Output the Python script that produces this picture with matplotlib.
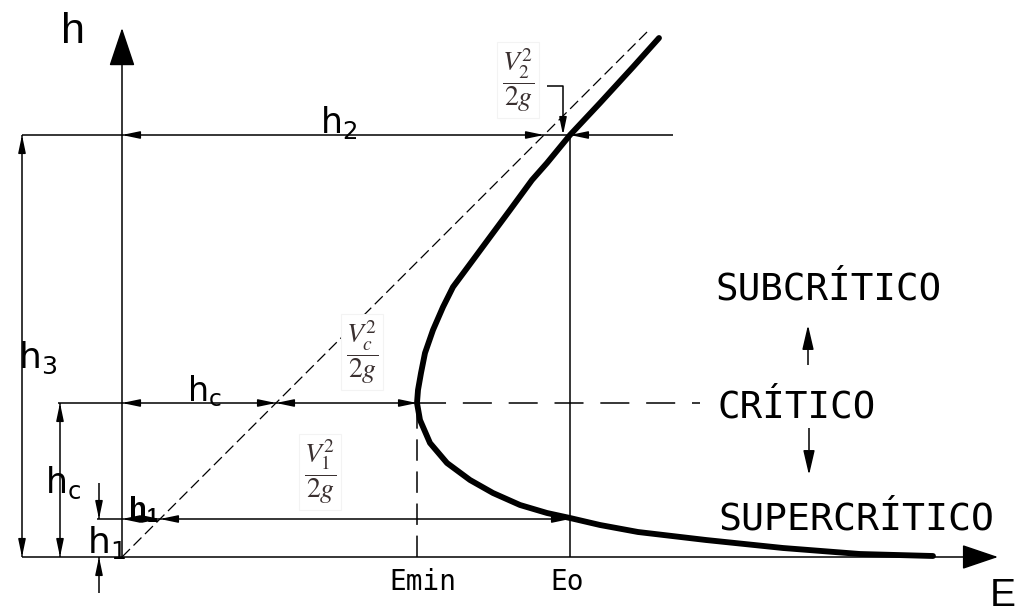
import matplotlib
matplotlib.use("Agg")
import matplotlib.pyplot as plt

# ---- data (specific-energy diagram, in drawing units) ----
E_curve = [537, 511, 478, 448, 425, 410, 388, 368, 351, 331, 321, 311, 303, 299,
           296, 295, 298, 308, 325, 348, 371, 398, 425, 448, 478, 516, 584, 661,
           738, 811]
h_curve = [519, 490, 454, 422, 394, 377, 347, 320, 297, 270, 250, 227, 204, 184,
           167, 154, 137, 114, 94, 77, 64, 52, 44, 39, 32, 25, 17, 9, 3, 1]
h1, hc, h2 = 38, 154, 422
E_min, E_0 = 295, 448
regime_labels = ["SUBCRÍTICO", "CRÍTICO", "SUPERCRÍTICO"]
tick_labels = ["Emin", "Eo"]

plt.rcParams['mathtext.fontset'] = 'custom'
plt.rcParams['mathtext.rm'] = 'Liberation Sans'
plt.rcParams['mathtext.bf'] = 'Liberation Sans:bold'
SANS = ['Liberation Sans', 'DejaVu Sans']
MONO = ['DejaVu Sans Mono']

fig = plt.figure(figsize=(10.17, 6.15), dpi=100)
ax = fig.add_axes([0, 0, 1, 1])
ax.set_xlim(-122, 895)
ax.set_ylim(-58, 557)
ax.axis('off')

K = 'black'
LW = 1.1


def line(xs, ys, **kw):
    d = dict(color=K, lw=LW, solid_capstyle='butt')
    d.update(kw)
    ax.plot(xs, ys, **d)


def head(tip, direction, length=15, hl=1.05, hw=0.22):
    dx, dy = direction
    tail = (tip[0] - dx * length, tip[1] - dy * length)
    ax.annotate('', xy=tip, xytext=tail,
                arrowprops=dict(arrowstyle=f'-|>,head_length={hl},head_width={hw}',
                                color=K, lw=LW, shrinkA=0, shrinkB=0,
                                mutation_scale=10))


# axes of the diagram
line([-100, 850], [0, 0])
head((876, 0), (1, 0), length=33, hl=2.3, hw=0.78)
line([0, 0], [0, 500])
head((0, 529), (0, 1), length=36, hl=2.45, hw=0.82)

# 45 degree dashed line
line([0, 527], [0, 527], lw=0.9, ls=(0, (9, 4)))

# horizontal reference lines
line([-100, 551], [h2, h2])
line([-64, E_min], [hc, hc])
line([E_min, 578], [hc, hc], ls=(0, (19, 11)))
line([-25, E_0], [h1, h1])

# verticals
line([E_0, E_0], [0, h2])
line([E_min, E_min], [0, hc], ls=(0, (14, 7)))

# energy curve
ax.plot(E_curve, h_curve, color=K, lw=4.2, solid_capstyle='round',
        solid_joinstyle='round')

# dimension lines
line([-100, -100], [0, h2])
head((-100, h2), (0, 1))
head((-100, 0), (0, -1))
line([-62, -62], [0, hc])
head((-62, hc), (0, 1))
head((-62, 0), (0, -1))
line([-23, -23], [h1, h1 + 36])
head((-23, h1), (0, -1))
line([-23, -23], [-36, 0])
head((-23, 0), (0, 1))

# horizontal dimension arrows
head((0, h2), (-1, 0))
head((h2, h2), (1, 0))
head((E_0, h2), (-1, 0))
head((0, hc), (-1, 0))
head((hc, hc), (1, 0))
head((hc, hc), (-1, 0))
head((E_min, hc), (1, 0))
head((0, h1), (-1, 0))
head((h1, h1), (1, 0))
head((h1, h1), (-1, 0))
head((E_0, h1), (1, 0))

# leader for V2^2/2g
line([425, 441, 441], [471, 471, 440])
head((441, h2), (0, -1), length=18)

# regime arrows
line([686, 686], [192, 215])
head((686, 232), (0, 1), length=20, hl=1.5, hw=0.35)
line([687, 687], [107, 129])
head((687, 82), (0, -1), length=20, hl=1.5, hw=0.35)

# labels (sans)
ax.text(-49, 514, 'h', fontsize=31, family=SANS, ha='center', va='baseline')
ax.text(198, 424, r'$\mathregular{h_2}$', fontsize=25, ha='left', va='baseline')
ax.text(-104, 189, r'$\mathregular{h_3}$', fontsize=26, ha='left', va='baseline')
ax.text(65, 156, r'$\mathregular{h_c}$', fontsize=24, ha='left', va='baseline')
ax.text(-77, 64, r'$\mathregular{h_c}$', fontsize=25, ha='left', va='baseline')
ax.text(6, 39, r'$\mathbf{h_1}$', fontsize=21, ha='left', va='baseline')
ax.text(-35, 4, r'$\mathregular{h_1}$', fontsize=26, ha='left', va='baseline')
ax.text(868, -49, 'E', fontsize=28, family=SANS, ha='left', va='baseline')

# tick-like labels
ax.text(E_min + 6, -33, tick_labels[0], fontsize=20, family=MONO, ha='center',
        va='baseline')
ax.text(E_0 - 3, -33, tick_labels[1], fontsize=20, family=MONO, ha='center',
        va='baseline')

# regime labels
ax.text(593, 257, regime_labels[0], fontsize=27, family=MONO, ha='left', va='baseline')
ax.text(596, 140, regime_labels[1], fontsize=27, family=MONO, ha='left', va='baseline')
ax.text(596, 27, regime_labels[2], fontsize=27.5, family=MONO, ha='left', va='baseline')

# velocity-head fractions
box = dict(boxstyle='square,pad=0.15', fc='white', ec='#f3f3f3', lw=0.8)
FC = '#3a3030'
ax.text(396, 477, r'$\dfrac{V_2^2}{2g}$', fontsize=20, math_fontfamily='stix',
        ha='center', va='center', color=FC, bbox=box)
ax.text(240, 205, r'$\dfrac{V_c^2}{2g}$', fontsize=20, math_fontfamily='stix',
        ha='center', va='center', color=FC, bbox=box)
ax.text(198, 85, r'$\dfrac{V_1^2}{2g}$', fontsize=20, math_fontfamily='stix',
        ha='center', va='center', color=FC, bbox=box)

fig.savefig('out.png', dpi=100)
